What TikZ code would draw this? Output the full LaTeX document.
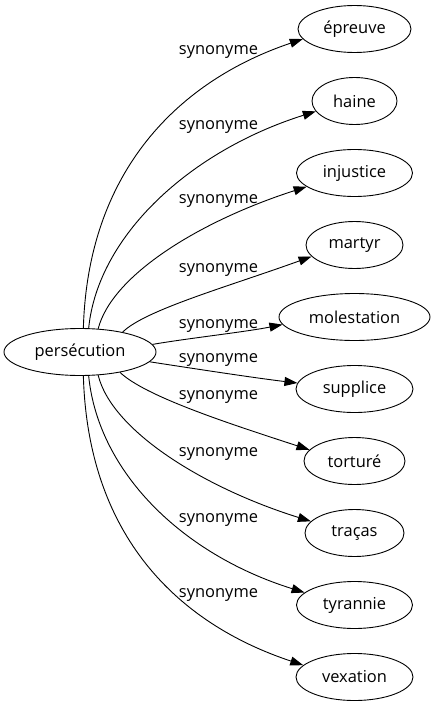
\documentclass[tikz,border=0pt]{standalone}
\usepackage{fontspec}
\setmainfont{Open Sans}
\usetikzlibrary{shapes.geometric,arrows.meta}
\begin{document}
\begin{tikzpicture}[x=1bp,y=-1bp,
  word/.style={ellipse,draw,line width=0.9bp,inner sep=0pt,minimum height=47bp,font=\fontsize{16.5}{19}\selectfont},
  lab/.style={inner sep=0pt,font=\fontsize{16.5}{19}\selectfont},
  edge/.style={line width=0.9bp,-{Triangle[length=13bp,width=9bp]}}]
\useasboundingbox (0,0) rectangle (435,707);
\node[word,minimum width=152bp] (src) at (80,352) {persécution};
\node[word,minimum width=113bp] (t1) at (354.5,29) {épreuve};
\node[word,minimum width=85bp]  (t2) at (354.5,101) {haine};
\node[word,minimum width=116bp] (t3) at (354.5,173) {injustice};
\node[word,minimum width=97bp]  (t4) at (354.5,245) {martyr};
\node[word,minimum width=151bp] (t5) at (354.5,317) {molestation};
\node[word,minimum width=117bp] (t6) at (354.5,389) {supplice};
\node[word,minimum width=101bp] (t7) at (354.5,461) {torturé};
\node[word,minimum width=99bp]  (t8) at (354.5,533) {traças};
\node[word,minimum width=116bp] (t9) at (354.5,605) {tyrannie};
\node[word,minimum width=117bp] (t10) at (354.5,677) {vexation};
\node[lab] (l1) at (218.5,52) {synonyme};
\node[lab] (l2) at (218.5,127) {synonyme};
\node[lab] (l3) at (218.5,201) {synonyme};
\node[lab] (l4) at (218.5,270) {synonyme};
\node[lab] (l5) at (218.5,326) {synonyme};
\node[lab] (l6) at (218.5,360) {synonyme};
\node[lab] (l7) at (218.5,397) {synonyme};
\node[lab] (l8) at (218.5,454) {synonyme};
\node[lab] (l9) at (218.5,520) {synonyme};
\node[lab] (l10) at (218.5,595) {synonyme};
\draw[edge] (src.82.6) .. controls (88,170) and (179.5,80.6) .. (t1.191);
\draw[edge] (src.70) .. controls (98,235) and (191,150.6) .. (t2.195.6);
\draw[edge] (src.52.7) .. controls (112,275) and (200,221) .. (t3.196.7);
\draw[edge] (src.25.4) .. controls (145,310) and (227,287) .. (t4.195.8);
\draw[edge] (src.6.3) .. controls (190,338) and (245,332) .. (t5.186.4);
\draw[edge] (src.-8) .. controls (190,368) and (255,378) .. (t6.174);
\draw[edge] (src.-27.7) .. controls (145,396) and (224,422) .. (t7.166);
\draw[edge] (src.-52.7) .. controls (112,431) and (204,488) .. (t8.165);
\draw[edge] (src.-70) .. controls (98,471) and (181,554) .. (t9.166.5);
\draw[edge] (src.-82.6) .. controls (88,536) and (177.5,623.4) .. (t10.167);
\end{tikzpicture}
\end{document}
